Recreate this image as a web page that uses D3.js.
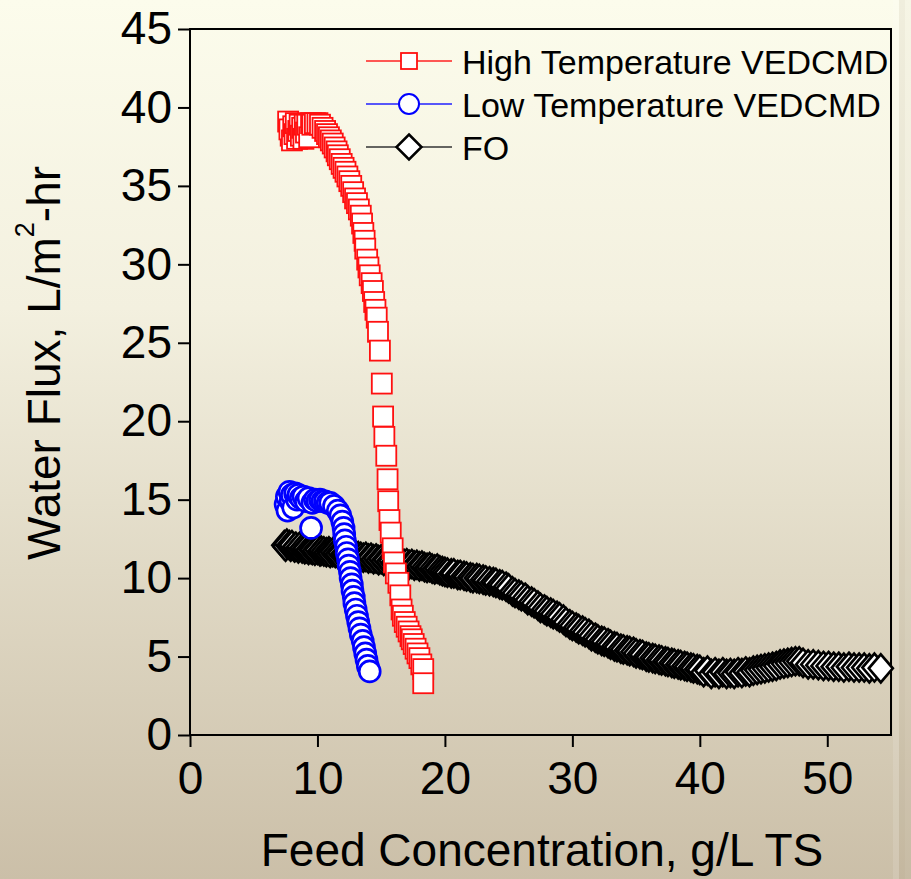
<!DOCTYPE html>
<html>
<head>
<meta charset="utf-8">
<script src="https://cdn.jsdelivr.net/npm/d3@7"></script>
<style>
html,body{margin:0;padding:0;background:#fff;}
svg text{font-family:"Liberation Sans",Arial,Helvetica,sans-serif;fill:#000;}
</style>
</head>
<body>
<svg id="chart" width="911" height="879"></svg>
<script>
// ---------------- DATA ----------------
const xTicks = [0, 10, 20, 30, 40, 50];
const yTicks = [0, 5, 10, 15, 20, 25, 30, 35, 40, 45];
const seriesNames = ["High Temperature VEDCMD", "Low Temperature VEDCMD", "FO"];

// High Temperature VEDCMD (red squares)
const highConc = [7.7,7.9,7.8,8.0,8.1,8.2,8.3,8.4,8.5,8.6,8.7,8.8,8.9,9.0,9.1,9.2,9.35,9.5,9.6,9.8,10.0,10.2,10.4,10.6,10.75,10.9,11.05,11.2,11.35,11.5,11.6,11.75,11.9,12.05,12.2,12.35,12.5,12.65,12.8,12.95,13.1,13.25,13.4,13.5,13.6,13.7,13.75,13.9,14.0,14.1,14.25,14.35,14.45,14.55,14.65,14.75,14.9,15.05,15.15,15.25,15.4,15.5,15.55,15.65,15.75,15.9,16.0,16.15,16.35,16.5,16.6,16.7,16.85,17.0,17.15,17.3,17.4,17.55,17.7,17.85,18.0,18.15,18.3,18.3];
const highFlux = [39.1,38.2,38.6,37.9,38.8,38.3,39.0,38.0,38.5,38.9,38.2,38.7,38.0,38.9,38.4,38.9,38.1,39.0,38.9,39.0,39.0,38.9,38.7,38.5,38.3,38.1,37.9,37.7,37.45,37.2,36.95,36.7,36.4,36.15,35.9,35.6,35.3,35.0,34.6,34.2,33.9,33.5,33.1,32.6,32.0,31.5,31.0,30.3,29.8,29.3,28.8,28.3,27.6,27.1,26.6,25.7,24.5,22.4,20.3,19.0,17.8,16.3,14.9,13.7,12.9,11.9,11.0,10.3,9.7,8.9,8.0,7.6,7.2,6.9,6.6,6.3,6.1,5.8,5.5,5.2,4.9,4.5,4.2,3.3];

// Low Temperature VEDCMD (blue circles)
const lowConc = [7.5,7.6,7.65,7.8,7.9,8.0,8.1,8.25,8.4,8.5,8.7,8.9,9.1,9.3,9.5,9.6,9.8,10.0,10.2,10.4,10.6,10.8,11.0,11.3,11.6,11.8,11.95,12.05,12.1,12.15,12.25,12.3,12.4,12.45,12.55,12.6,12.7,12.75,12.85,12.9,13.0,13.1,13.2,13.3,13.4,13.55,13.65,13.75,13.85,13.95,14.1];
const lowFlux = [14.7,15.2,14.3,15.5,14.9,15.3,14.5,15.4,15.0,15.3,15.1,15.2,14.9,15.1,13.2,14.8,15.0,14.9,15.0,14.9,14.9,14.8,14.8,14.6,14.3,14.0,13.6,13.2,12.8,12.4,12.0,11.6,11.2,10.8,10.4,10.0,9.6,9.2,8.8,8.4,8.0,7.6,7.2,6.8,6.4,6.0,5.6,5.2,4.8,4.4,4.05];

// FO (black diamonds)
const foConc = [7.4,7.5,7.6,7.8,7.9,8.0,8.2,8.3,8.5,8.6,8.8,9.0,9.1,9.3,9.5,9.6,9.8,10.0,10.2,10.3,10.5,10.7,10.9,11.0,11.2,11.4,11.6,11.8,12.0,12.1,12.3,12.5,12.7,12.9,13.0,13.2,13.4,13.6,13.8,14.0,14.2,14.4,14.6,14.8,15.0,15.2,15.4,15.6,15.8,16.0,16.2,16.4,16.6,16.8,17.0,17.2,17.4,17.6,17.8,18.0,18.2,18.4,18.6,18.8,19.0,19.2,19.4,19.6,19.8,20.0,
  20.2,20.5,20.7,21.0,21.2,21.5,21.7,22.0,22.2,22.5,22.7,23.0,23.2,23.5,23.8,24.0,24.3,24.5,24.8,25.0,25.3,25.5,25.8,26.0,26.3,26.5,26.8,27.0,27.3,27.5,27.8,28.0,28.3,28.5,28.8,29.0,29.3,29.5,29.8,30.0,30.3,30.5,30.8,31.0,31.3,31.5,31.8,32.0,32.3,32.5,32.8,33.0,33.3,33.5,33.8,34.0,34.3,34.5,34.8,35.0,35.3,35.5,35.8,36.0,36.3,36.5,36.8,37.0,37.3,37.5,37.8,38.0,38.3,38.5,38.8,39.0,39.3,39.5,39.8,40.0,
  40.3,40.6,40.9,41.2,41.5,41.8,42.1,42.4,42.7,43.0,43.3,43.6,43.9,44.2,44.5,44.8,45.1,45.4,45.7,46.0,46.3,46.6,46.9,47.2,47.5,47.8,48.1,48.5,48.9,49.3,49.7,50.1,50.5,50.9,51.3,51.7,52.1,52.5,52.9,53.3,53.7,54.2];
const foFlux = [12.1,12.0,12.2,12.1,12.0,12.1,11.95,12.0,11.9,12.0,
  11.9,11.85,11.9,11.8,11.85,11.8,11.75,11.8,11.7,11.75,
  11.7,11.65,11.7,11.6,11.65,11.6,11.55,11.6,11.5,11.55,
  11.5,11.45,11.5,11.4,11.45,11.4,11.35,11.3,11.35,11.25,
  11.3,11.2,11.25,11.15,11.2,11.1,11.15,11.05,11.1,11.0,
  11.05,10.95,11.0,10.9,10.95,10.85,10.9,10.8,10.85,10.75,
  10.8,10.7,10.65,10.7,10.6,10.55,10.6,10.5,10.45,10.4,
  10.35,10.3,10.3,10.2,10.2,10.15,10.1,10.05,10.0,10.0,
  9.95,9.9,9.85,9.8,9.75,9.7,9.6,9.55,9.45,9.35,
  9.15,9.05,8.95,8.85,8.75,8.6,8.5,8.4,8.25,8.1,
  8.0,7.9,7.8,7.7,7.6,7.5,7.35,7.2,7.05,6.95,
  6.85,6.75,6.65,6.55,6.45,6.3,6.2,6.1,6.0,5.95,
  5.85,5.75,5.65,5.6,5.5,5.45,5.4,5.35,5.3,5.2,
  5.15,5.1,5.0,4.95,4.9,4.85,4.8,4.75,4.7,4.65,
  4.6,4.55,4.5,4.45,4.4,4.35,4.3,4.25,4.2,4.15,
  4.0,4.1,3.9,4.0,3.9,4.0,3.9,3.95,3.9,4.0,3.95,4.05,4.0,4.1,4.15,4.2,4.25,4.3,4.35,4.4,4.5,4.55,4.6,4.65,4.7,4.7,4.6,4.5,4.5,4.45,4.4,4.4,4.35,4.35,4.3,4.35,4.3,4.3,4.3,4.25,4.3,4.25];

// ---------------- CHART ----------------
const W = 911, H = 879;
const svg = d3.select("#chart");

// background gradient
const defs = svg.append("defs");
const bg = defs.append("linearGradient").attr("id","bg").attr("x1",0).attr("y1",0).attr("x2",0).attr("y2",1);
bg.append("stop").attr("offset","0%").attr("stop-color","#fcfcec");
bg.append("stop").attr("offset","35%").attr("stop-color","#f3f0df");
bg.append("stop").attr("offset","65%").attr("stop-color","#e0d9c5");
bg.append("stop").attr("offset","100%").attr("stop-color","#cbbfa8");
svg.append("rect").attr("width",W).attr("height",H).attr("fill","url(#bg)");
// right edge stripes
svg.append("rect").attr("x",893).attr("y",0).attr("width",6).attr("height",H).attr("fill","#ffffff").attr("opacity",0.12);
svg.append("rect").attr("x",899).attr("y",0).attr("width",6).attr("height",H).attr("fill","#8a7a5a").attr("opacity",0.10);
svg.append("rect").attr("x",905).attr("y",0).attr("width",6).attr("height",H).attr("fill","#8a7a5a").attr("opacity",0.05);

const x = d3.scaleLinear().domain([0,55]).range([190,891]);
const y = d3.scaleLinear().domain([0,45]).range([735,29]);

// axes
const yAxis = svg.append("g").attr("transform",`translate(${x(0)},0)`)
  .call(d3.axisLeft(y).tickValues(yTicks).tickSize(12).tickSizeOuter(0).tickPadding(6));
const xAxis = svg.append("g").attr("transform",`translate(0,${y(0)})`)
  .call(d3.axisBottom(x).tickValues(xTicks).tickSize(12).tickSizeOuter(0).tickPadding(14));
[yAxis,xAxis].forEach(g=>{
  g.select(".domain").remove();
  g.selectAll(".tick line").attr("stroke","#000").attr("stroke-width",2);
  g.selectAll(".tick text").attr("font-size",46).attr("fill","#000")
   .attr("font-family",'"Liberation Sans",Arial,sans-serif');
});

// frame
svg.append("rect").attr("x",x(0)).attr("y",y(45)).attr("width",x(55)-x(0)).attr("height",y(0)-y(45))
  .attr("fill","none").attr("stroke","#000").attr("stroke-width",2);

// axis titles
svg.append("text").attr("x",542).attr("y",866).attr("text-anchor","middle").attr("font-size",46)
  .text("Feed Concentration, g/L TS");
const yt = svg.append("text").attr("transform","translate(60,363) rotate(-90)").attr("text-anchor","middle").attr("font-size",46);
yt.append("tspan").text("Water Flux, L/m");
yt.append("tspan").attr("font-size",27).attr("dy",-26).text("2");
yt.append("tspan").attr("dy",26).text("-hr");

// markers
const diamond = (cx,cy,hw,hh)=>`M${cx},${cy-hh}L${cx+hw},${cy}L${cx},${cy+hh}L${cx-hw},${cy}Z`;

const fo = foConc.map((c,i)=>({c, f: foFlux[i]}));
const low = lowConc.map((c,i)=>({c, f: lowFlux[i]}));
const high = highConc.map((c,i)=>({c, f: highFlux[i]}));

svg.append("g").selectAll("path").data(fo).join("path")
  .attr("d",d=>diamond(x(d.c),y(d.f),12,14))
  .attr("fill","#fff").attr("stroke","#000").attr("stroke-width",2.7);

svg.append("g").selectAll("circle").data(low).join("circle")
  .attr("cx",d=>x(d.c)).attr("cy",d=>y(d.f)).attr("r",10.5)
  .attr("fill","#fff").attr("stroke","#0000ff").attr("stroke-width",2.7);

svg.append("g").selectAll("rect").data(high).join("rect")
  .attr("x",d=>x(d.c)-10).attr("y",d=>y(d.f)-10).attr("width",20).attr("height",20)
  .attr("fill","#fff").attr("stroke","#ff1010").attr("stroke-width",1.8);

// legend
const legRows = [61, 104, 147];
const legColors = ["#ff2020","#2020ff","#333333"];
const leg = svg.append("g");
seriesNames.forEach((name,i)=>{
  const cy = legRows[i];
  leg.append("line").attr("x1",366).attr("x2",452).attr("y1",cy).attr("y2",cy)
    .attr("stroke",legColors[i]).attr("stroke-width",1.5);
  if(i===0){
    leg.append("rect").attr("x",401).attr("y",cy-8).attr("width",16).attr("height",16)
      .attr("fill","#fff").attr("stroke","#ff1010").attr("stroke-width",1.8);
  } else if(i===1){
    leg.append("circle").attr("cx",409).attr("cy",cy).attr("r",10)
      .attr("fill","#fff").attr("stroke","#0000ff").attr("stroke-width",2);
  } else {
    leg.append("path").attr("d",diamond(409,cy,12.5,12.5))
      .attr("fill","#fff").attr("stroke","#000").attr("stroke-width",2.5);
  }
  leg.append("text").attr("x",462).attr("y",cy+12.5).attr("font-size",34).text(name);
});
</script>
</body>
</html>
